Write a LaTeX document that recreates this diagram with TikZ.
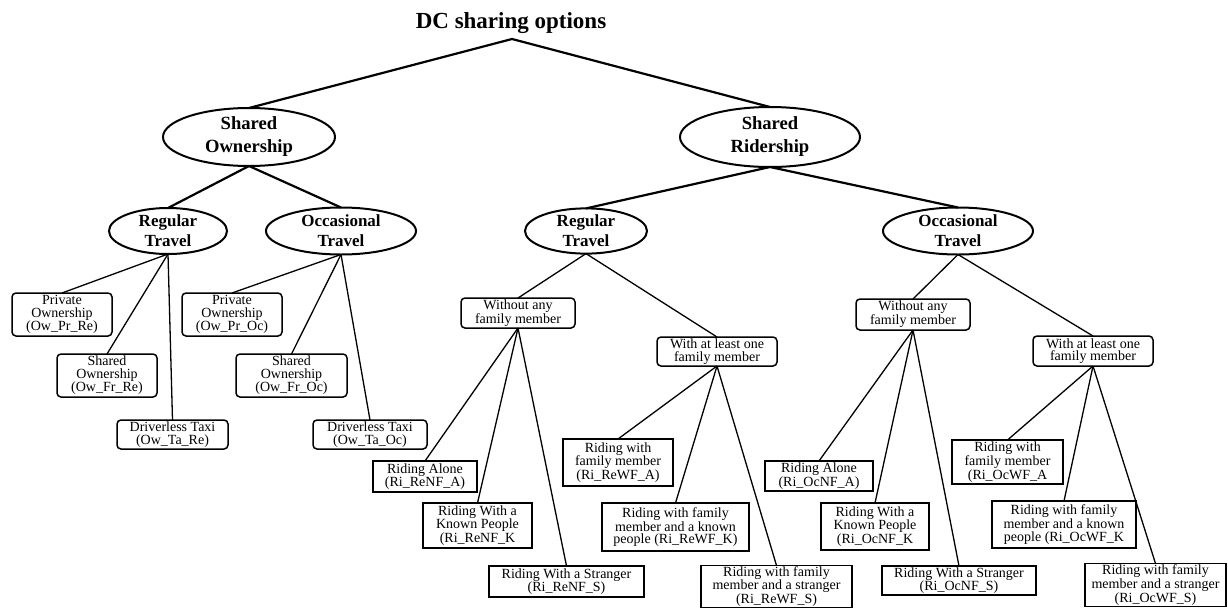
\documentclass[tikz,border=0pt]{standalone}
\usepackage{fontspec}
\setmainfont{Liberation Serif}
\usetikzlibrary{shapes.geometric}
\begin{document}
\begin{tikzpicture}[x=1pt,y=-1pt,
  every node/.style={inner sep=0pt, outer sep=0pt, align=center},
  sz/.style n args={2}{minimum width=#1pt, minimum height=#2pt},
  branch/.style={draw, ellipse, line width=2pt, font=\fontsize{17}{20}\selectfont\bfseries},
  mainbranch/.style={branch, font=\fontsize{18.6}{23}\selectfont\bfseries},
  optbox/.style={draw, rounded corners=4pt, line width=1.5pt, font=\fontsize{14}{12.5}\selectfont},
  leafbox/.style={draw, line width=1.7pt, font=\fontsize{14}{12.5}\selectfont},
  trunk/.style={line width=2.2pt, line join=miter},
  twig/.style={line width=1.3pt},
]
\useasboundingbox (0,0) rectangle (1228,608);

% title and root
\node[anchor=base, font=\fontsize{23}{28}\selectfont\bfseries] (title) at (511,28) {DC sharing options};
\coordinate (apex) at (512,39);

% first and second levels
\node[mainbranch, sz={172}{58}] (SO) at (249,137) {Shared\\Ownership};
\node[mainbranch, sz={180}{60}] (SR) at (770,137) {Shared\\Ridership};
\node[branch, sz={118}{46}] (RTL) at (168,231) {Regular\\Travel};
\node[branch, sz={150}{47}] (OTL) at (341,231) {Occasional\\Travel};
\node[branch, sz={122}{45}] (RTR) at (586,231) {Regular\\Travel};
\node[branch, sz={150}{47}] (OTR) at (958,231) {Occasional\\Travel};

% ownership options
\node[optbox, sz={100}{43}] (OwPrRe) at (62,314.5) {Private\\Ownership\\(Ow\_Pr\_Re)};
\node[optbox, sz={100}{43}] (OwFrRe) at (107,375.5) {Shared\\Ownership\\(Ow\_Fr\_Re)};
\node[optbox, sz={111}{29}] (OwTaRe) at (172.5,434.5) {Driverless Taxi\\(Ow\_Ta\_Re)};
\node[optbox, sz={100}{43}] (OwPrOc) at (232,314.5) {Private\\Ownership\\(Ow\_Pr\_Oc)};
\node[optbox, sz={111}{43}] (OwFrOc) at (291.5,375.5) {Shared\\Ownership\\(Ow\_Fr\_Oc)};
\node[optbox, sz={114}{29}] (OwTaOc) at (370,434.5) {Driverless Taxi\\(Ow\_Ta\_Oc)};

% ridership groups
\node[optbox, sz={114}{30}] (WoRe) at (518,313) {Without any\\family member};
\node[optbox, sz={120}{29}] (WiRe) at (717,351.5) {With at least one\\family member};
\node[optbox, sz={114}{31}] (WoOc) at (913,314.5) {Without any\\family member};
\node[optbox, sz={120}{30}] (WiOc) at (1093,351) {With at least one\\family member};

% ridership options, regular travel
\node[leafbox, sz={104}{31}] (ReNFA) at (425,476.5) {Riding Alone\\(Ri\_ReNF\_A)};
\node[leafbox, sz={109}{45}] (ReNFK) at (477.5,525.5) {Riding With a\\Known People\\(Ri\_ReNF\_K};
\node[leafbox, sz={155}{31}] (ReNFS) at (566.5,581.5) {Riding With a Stranger\\(Ri\_ReNF\_S)};
\node[leafbox, sz={110}{47}] (ReWFA) at (618,462.5) {Riding with\\family member\\(Ri\_ReWF\_A)};
\node[leafbox, sz={147}{48}] (ReWFK) at (675.5,527) {Riding with family\\member and a known\\people (Ri\_ReWF\_K)};
\node[leafbox, sz={151}{42}] (ReWFS) at (776.5,586.5) {Riding with family\\member and a stranger\\(Ri\_ReWF\_S)};

% ridership options, occasional travel
\node[leafbox, sz={108}{30}] (OcNFA) at (819,476) {Riding Alone\\(Ri\_OcNF\_A)};
\node[leafbox, sz={108}{47}] (OcNFK) at (875,526.5) {Riding With a\\Known People\\(Ri\_OcNF\_K};
\node[leafbox, sz={154}{29}] (OcNFS) at (959,580.5) {Riding With a Stranger\\(Ri\_OcNF\_S)};
\node[leafbox, sz={111}{44}] (OcWFA) at (1007.5,462) {Riding with\\family member\\(Ri\_OcWF\_A};
\node[leafbox, sz={144}{47}] (OcWFK) at (1064,524.5) {Riding with family\\member and a known\\people (Ri\_OcWF\_K};
\node[leafbox, sz={141}{43}] (OcWFS) at (1155.5,585) {Riding with family\\member and a stranger\\(Ri\_OcWF\_S)};

% connectors
\draw[trunk] (SO.north) -- (apex) -- (SR.north);
\draw[trunk] (SO.south) -- (RTL.north);
\draw[trunk] (SO.south) -- (OTL.north);
\draw[trunk] (SR.south) -- (RTR.north);
\draw[trunk] (SR.south) -- (OTR.north);

\foreach \c in {OwPrRe,OwFrRe,OwTaRe} \draw[twig] (RTL.south) -- (\c.north);
\foreach \c in {OwPrOc,OwFrOc,OwTaOc} \draw[twig] (OTL.south) -- (\c.north);
\foreach \c in {WoRe,WiRe} \draw[twig] (RTR.south) -- (\c.north);
\foreach \c in {WoOc,WiOc} \draw[twig] (OTR.south) -- (\c.north);
\foreach \c in {ReNFA,ReNFK,ReNFS} \draw[twig] (WoRe.south) -- (\c.north);
\foreach \c in {ReWFA,ReWFK,ReWFS} \draw[twig] (WiRe.south) -- (\c.north);
\foreach \c in {OcNFA,OcNFK,OcNFS} \draw[twig] (WoOc.south) -- (\c.north);
\foreach \c in {OcWFA,OcWFK,OcWFS} \draw[twig] (WiOc.south) -- (\c.north);
\end{tikzpicture}
\end{document}
